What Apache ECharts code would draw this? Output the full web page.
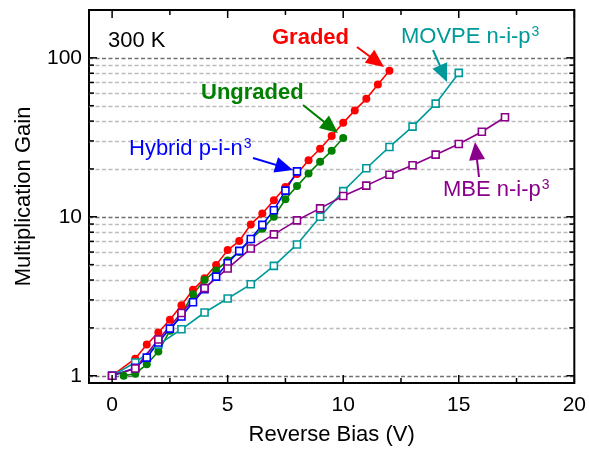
<!DOCTYPE html>
<html><head><meta charset="utf-8">
<script src="https://cdn.jsdelivr.net/npm/echarts@6/dist/echarts.min.js"></script>
<style>html,body{margin:0;padding:0;background:#fff}#c{width:589px;height:451px}</style>
</head><body><div id="c"></div>
<script>
// ---- data ----
const gradedV = [0,1,1.5,2,2.5,3,3.5,4,4.5,5,5.5,6,6.5,7,7.5,8,8.5,9,9.5,10,10.5,11,11.5,12];
const gradedG = [1,1.28,1.57,1.87,2.25,2.78,3.47,4.1,4.97,6.17,7.04,8.95,10.5,12.7,15.4,18.6,22.7,26.8,32.2,39.0,46.7,55.2,67.9,83.0];
const ungradedV = [0.5,1,1.5,2,2.5,3,3.5,4,4.5,5,5.5,6,6.5,7,7.5,8,8.5,9,9.5,10];
const ungradedG = [1.0,1.03,1.18,1.42,1.92,2.44,3.26,4.0,4.6,5.3,6.0,7.2,8.4,10.0,12.9,15.6,18.7,22.2,26.0,31.3];
const hybridV = [0,1,1.5,2,2.5,3,3.5,4,4.5,5,5.5,6,6.5,7,7.5,8];
const hybridG = [1,1.12,1.30,1.62,1.98,2.36,2.9,3.5,4.2,5.1,6.1,7.25,8.9,11.0,14.6,19.3];
const movpeV = [0,1,2,3,4,5,6,7,8,9,10,11,12,13,14,15];
const movpeG = [1,1.21,1.57,1.96,2.50,3.06,3.76,4.91,6.7,10.0,14.5,20.2,27.5,36.9,51.5,80.4];
const mbeV = [0,1,2,3,4,5,6,7,8,9,10,11,12,13,14,15,16,17];
const mbeG = [1,1.11,1.69,2.48,3.56,4.73,6.31,7.75,9.5,11.3,13.5,15.7,18.4,21.1,24.6,28.7,34.3,42.3];

const xRange = [-1, 20];
const yRange = [0.9, 200];
const xMajorTicks = [0,5,10,15,20];
const xMinorTicks = [2.5,7.5,12.5,17.5];
const yMajorTicks = [1,10,100];
const yMinorTicks = [2,3,4,5,6,7,8,9,20,30,40,50,60,70,80,90];

// ---- chart ----
const font = "'Liberation Sans', Arial, Helvetica, sans-serif";
const COL = {red:'#ff0000', green:'#008000', blue:'#0000ff', teal:'#009999', purple:'#8b008b'};
const pairs = (a,b) => a.map((v,i) => [v, b[i]]);

function circ(name, x, y, c){
  return {name, type:'line', data:pairs(x,y), symbol:'circle', symbolSize:8,
    lineStyle:{color:c, width:1.6}, itemStyle:{color:c}, z:3};
}
function sq(name, x, y, c){
  return {name, type:'line', data:pairs(x,y), symbol:'rect', symbolSize:7,
    lineStyle:{color:c, width:1.6}, itemStyle:{color:'#fff', borderColor:c, borderWidth:1.6}, z:3};
}

const chart = echarts.init(document.getElementById('c'), null, {renderer:'canvas'});
chart.setOption({
  animation:false,
  grid:{left:89, right:14, top:10, bottom:67, show:true, borderColor:'#000', borderWidth:2, backgroundColor:'transparent'},
  xAxis:{type:'value', min:xRange[0], max:xRange[1],
    axisLine:{show:false}, axisTick:{show:false}, splitLine:{show:false},
    axisLabel:{showMinLabel:false, fontSize:21, color:'#000', fontFamily:font, margin:12},
    name:'Reverse Bias (V)', nameLocation:'middle', nameGap:41,
    nameTextStyle:{fontSize:22, color:'#000', fontFamily:font}},
  yAxis:{type:'log', logBase:10, min:yRange[0], max:yRange[1],
    axisLine:{show:false}, axisTick:{show:false}, splitLine:{show:false}, minorTick:{show:false}, minorSplitLine:{show:false},
    axisLabel:{showMinLabel:false, showMaxLabel:false, fontSize:21, color:'#000', fontFamily:font, margin:7,
      formatter: v => yMajorTicks.some(t => Math.abs(t - v) < 1e-6 * t) ? String(Math.round(v)) : ''},
    name:'Multiplication Gain', nameLocation:'middle', nameGap:54, nameRotate:90,
    nameTextStyle:{fontSize:22, color:'#000', fontFamily:font}},
  series:[
    circ('Graded', gradedV, gradedG, COL.red),
    circ('Ungraded', ungradedV, ungradedG, COL.green),
    sq('MOVPE', movpeV, movpeG, COL.teal),
    sq('Hybrid', hybridV, hybridG, COL.blue),
    sq('MBE', mbeV, mbeG, COL.purple)
  ]
});

// ---- decorations through the chart's scales ----
const P = (x, y) => chart.convertToPixel({gridIndex:0}, [x, y]);
const L = P(xRange[0], yRange[0])[0], R = P(xRange[1], yRange[0])[0];
const B = P(xRange[0], yRange[0])[1], T = P(xRange[0], yRange[1])[1];
const g = [];
function seg(x1,y1,x2,y2,stroke,w,dash,z){
  g.push({type:'line', silent:true, z:z, shape:{x1,y1,x2,y2}, style:{stroke, lineWidth:w, lineDash:dash||null}});
}
// grid lines
yMinorTicks.forEach(v => { const y = Math.round(P(0,v)[1]) + 0.5; seg(L, y, R, y, '#bdbdbd', 1.5, [4,2.5], 1); });
yMajorTicks.forEach(v => { const y = Math.round(P(0,v)[1]) + 0.5; seg(L, y, R, y, '#707070', 1.5, [4,2.5], 1); });
// ticks
yMajorTicks.forEach(v => { const y = P(0,v)[1]; seg(L, y, L+8, y, '#000', 1.5, null, 20); seg(R, y, R-8, y, '#000', 1.5, null, 20); });
yMinorTicks.forEach(v => { const y = P(0,v)[1]; seg(L, y, L+5, y, '#000', 1.5, null, 20); seg(R, y, R-5, y, '#000', 1.5, null, 20); });
xMajorTicks.forEach(v => { const x = P(v,1)[0]; seg(x, B, x, B-8, '#000', 1.5, null, 20); seg(x, T, x, T+8, '#000', 1.5, null, 20); });
xMinorTicks.forEach(v => { const x = P(v,1)[0]; seg(x, B, x, B-5, '#000', 1.5, null, 20); seg(x, T, x, T+5, '#000', 1.5, null, 20); });

// annotations
function label(text, sup, x, y, color, bold){
  const rich = {
    m:{fontSize:22, fontFamily:font, fill:color, color, fontWeight: bold ? 'bold' : 'normal', lineHeight:24},
    s:{fontSize:14, fontFamily:font, fill:color, color, lineHeight:14, verticalAlign:'top', padding:[0,0,0,1]}
  };
  g.push({type:'text', silent:true, z:30, x, y,
    style:{text: '{m|' + text + '}' + (sup ? '{s|' + sup + '}' : ''), rich, fill:color, align:'left', verticalAlign:'middle'}});
}
function arrow(x1,y1,x2,y2,color){
  const dx = x2-x1, dy = y2-y1, len = Math.hypot(dx,dy), ux = dx/len, uy = dy/len;
  const hl = 18, hw = 8;
  const bx = x2 - ux*hl, by = y2 - uy*hl;
  seg(x1, y1, x2 - ux*hl*0.7, y2 - uy*hl*0.7, color, 2, null, 30);
  g.push({type:'polygon', silent:true, z:30,
    shape:{points:[[x2,y2],[bx - uy*hw, by + ux*hw],[bx + uy*hw, by - ux*hw]]}, style:{fill:color}});
}
label('300 K', '', 108, 41, '#000', false);
label('Graded', '', 272, 38, COL.red, true);
label('Ungraded', '', 201, 93, COL.green, true);
label('Hybrid p-i-n', '3', 129, 149, COL.blue, false);
label('MOVPE n-i-p', '3', 401, 37, COL.teal, false);
label('MBE n-i-p', '3', 443, 190, COL.purple, false);
arrow(357, 47, 384, 67, COL.red);
arrow(303, 105, 338, 133, COL.green);
arrow(253, 158, 293, 170, COL.blue);
arrow(433, 50, 447, 82, COL.teal);
arrow(479, 177, 475, 142, COL.purple);

chart.setOption({graphic:{elements:g}});
</script>
</body></html>
